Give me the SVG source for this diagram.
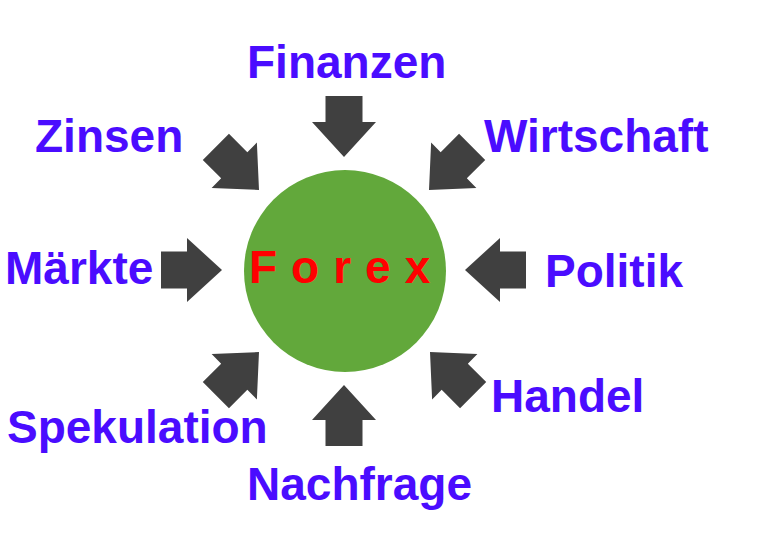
<svg xmlns="http://www.w3.org/2000/svg" width="760" height="558" viewBox="0 0 760 558">
<style>
.l{font-family:"Liberation Sans",Arial,sans-serif;font-weight:bold;font-size:46px;fill:#4a0cff}
.a{fill:#404040}
</style>
<defs><path id="ar" d="M-18.5,-61 H18.5 V-35 H32 L0,0 L-32,-35 H-18.5 Z"/></defs>
<rect width="760" height="558" fill="#fff"/>
<g id="center"><circle cx="345" cy="271" r="101" fill="#62a83b"/>
<text x="249" y="283" font-family="Liberation Sans,Arial,sans-serif" font-weight="bold" font-size="46" fill="#ff0000" letter-spacing="14">Forex</text></g>
<g id="connectors" class="a">
<use href="#ar" transform="translate(344,157)"/>
<use href="#ar" transform="translate(259,190) rotate(-45)"/>
<use href="#ar" transform="translate(429,190) rotate(45)"/>
<use href="#ar" transform="translate(222,270) rotate(-90)"/>
<use href="#ar" transform="translate(465,270) rotate(90)"/>
<use href="#ar" transform="translate(259,352) rotate(-135)"/>
<use href="#ar" transform="translate(430,352) rotate(135)"/>
<use href="#ar" transform="translate(344,385) rotate(180)"/>
</g>
<g id="finanzen"><text class="l" x="247" y="78">Finanzen</text></g>
<g id="zinsen"><text class="l" x="35" y="152">Zinsen</text></g>
<g id="wirtschaft"><text class="l" x="484" y="152">Wirtschaft</text></g>
<g id="maerkte"><text class="l" x="5" y="284">Märkte</text></g>
<g id="politik"><text class="l" x="545" y="287">Politik</text></g>
<g id="handel"><text class="l" x="491" y="412">Handel</text></g>
<g id="spekulation"><text class="l" x="7" y="443">Spekulation</text></g>
<g id="nachfrage"><text class="l" x="247" y="500">Nachfrage</text></g>
</svg>
